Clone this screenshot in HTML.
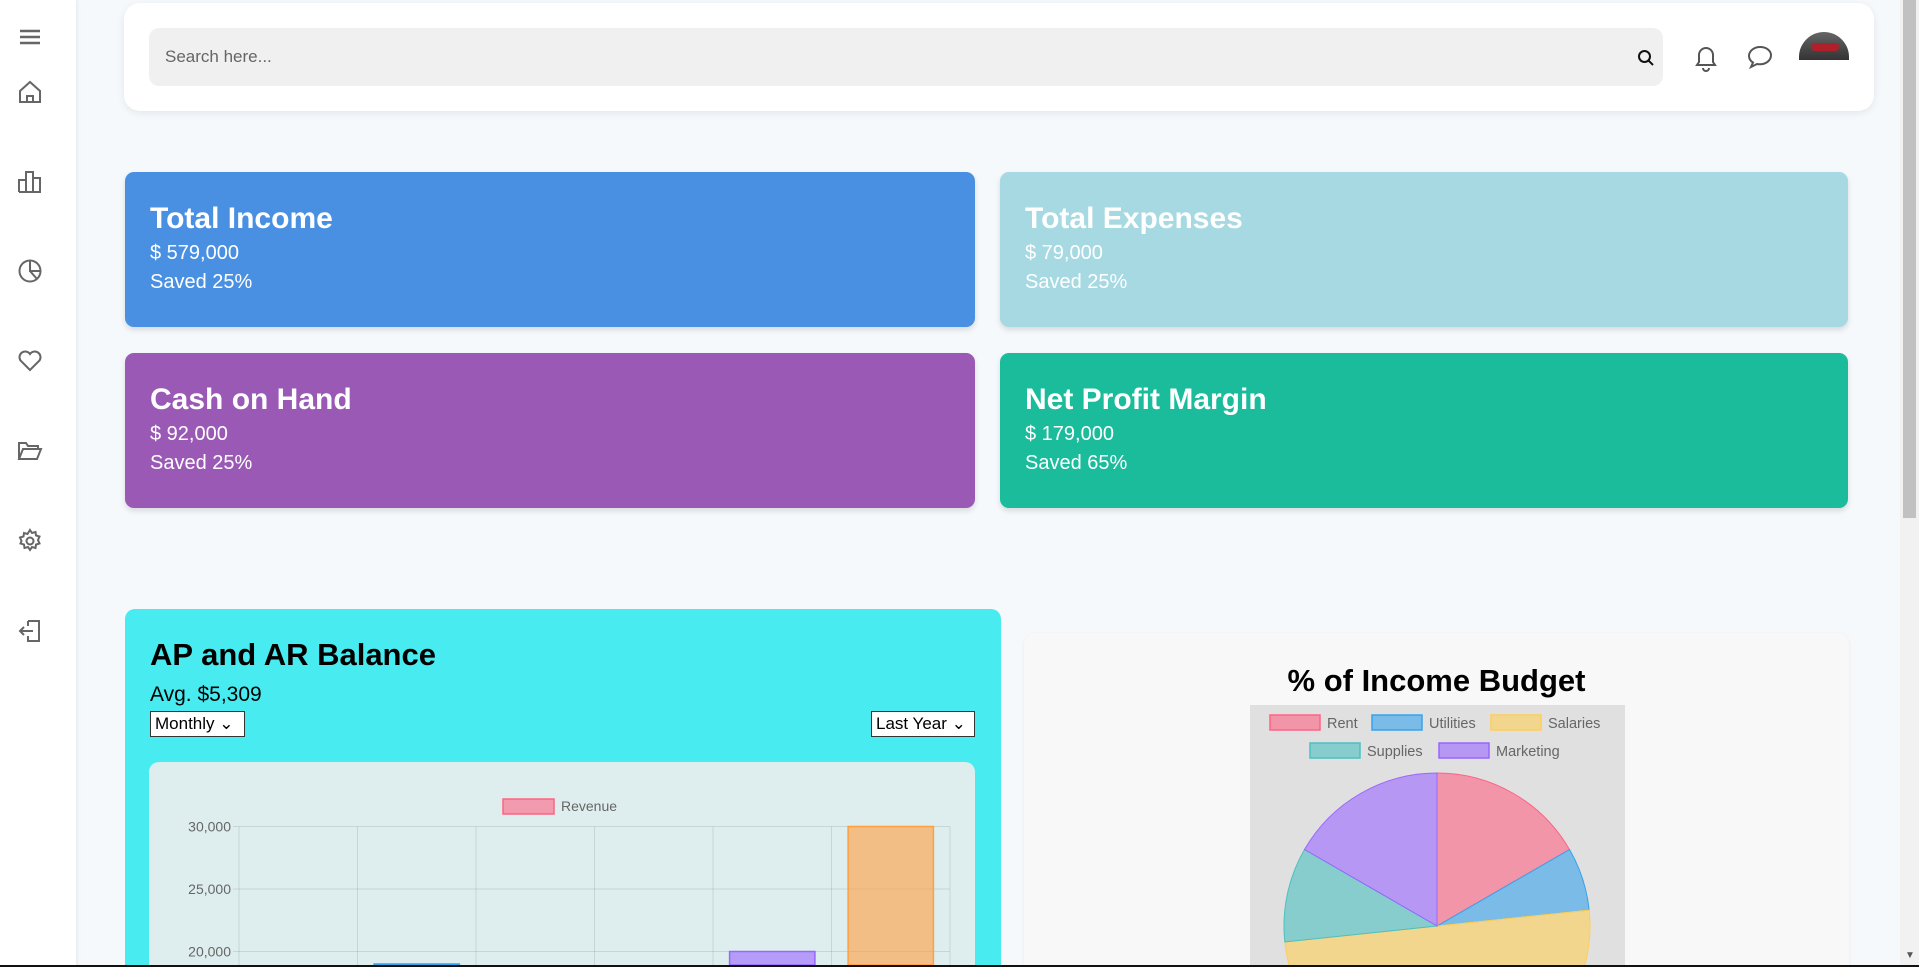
<!DOCTYPE html>
<html style="width:1919px;height:967px;overflow:hidden"><head><meta charset="utf-8">
<style>
*{box-sizing:border-box;margin:0;padding:0}
html,body{width:1919px;height:967px;overflow:hidden}
body{background:#f5f9fc;font-family:"Liberation Sans",sans-serif;position:relative}
.sidebar{position:absolute;left:0;top:0;width:76px;height:967px;background:#fff;box-shadow:1px 0 4px rgba(0,0,0,.08)}
.ic{position:absolute;left:17px;width:26px;height:26px}
.header{position:absolute;left:124px;top:3px;width:1750px;height:108px;background:#fff;border-radius:16px;box-shadow:0 2px 8px rgba(0,0,0,.08)}
.search{position:absolute;left:25px;top:25px;width:1514px;height:58px;background:#f0f0f0;border-radius:10px;font-size:17px;color:#666;padding:19px 0 0 16px}
.card{position:absolute;border-radius:9px;color:#fff;padding:0 25px;box-shadow:0 3px 6px rgba(0,0,0,.12)}
.card h2{font-size:30px;font-weight:bold;margin-top:30px}
.card p{font-size:20px;margin-top:6px}
.scroll{position:absolute;right:0;top:0;width:19px;height:967px;background:#f1f1f1}
</style></head><body>
<div class="sidebar">
<svg class="ic" style="top:24px" viewBox="0 0 26 26"><path d="M3 7h20M3 13h20M3 19h20" stroke="#666" stroke-width="2.4"/></svg>
<svg class="ic" style="top:79px" viewBox="0 0 26 26" fill="none" stroke="#666" stroke-width="2"><path d="M3 12L13 3l10 9v11H3z"/><path d="M10 23v-6h6v6"/></svg>
<svg class="ic" style="top:168px" viewBox="0 0 26 26" fill="none" stroke="#666" stroke-width="2"><path d="M2 24V12h7v12M9 24V4h7v20M16 24V10h7v14H2"/></svg>
<svg class="ic" style="top:258px" viewBox="0 0 26 26" fill="none" stroke="#666" stroke-width="2"><circle cx="13" cy="13" r="10.5"/><path d="M13 2.5V13h10.5M13 13l7 8"/></svg>
<svg class="ic" style="top:348px" viewBox="0 0 26 26" fill="none" stroke="#666" stroke-width="2"><path d="M13 22L3.5 12.5A5.5 5.5 0 0 1 13 6a5.5 5.5 0 0 1 9.5 6.5z"/></svg>
<svg class="ic" style="top:438px" viewBox="0 0 26 26" fill="none" stroke="#666" stroke-width="2"><path d="M2 21V5h7l2 3h10v3M2 21l4-10h18l-4 10z"/></svg>
<svg class="ic" style="top:528px" viewBox="0 0 26 26" fill="none" stroke="#666" stroke-width="2"><circle cx="13" cy="13" r="3.5"/><path d="M13 2l2 3 3.5-1 .5 3.5 3.5 1-1.5 3.5 1.5 3.5-3.5 1-.5 3.5-3.5-1-2 3-2-3-3.5 1-.5-3.5-3.5-1L4.5 13 3 9.5l3.5-1L7 5l3.5 1z"/></svg>
<svg class="ic" style="top:618px" viewBox="0 0 26 26" fill="none" stroke="#666" stroke-width="2"><path d="M11 3h11v20H11v-5M11 8V3M16 13H3m4-4l-4 4 4 4"/></svg>
</div>
<div class="header">
<div class="search">Search here...</div>
<svg style="position:absolute;left:1513px;top:46px" width="18" height="18" viewBox="0 0 18 18" fill="none" stroke="#111" stroke-width="2"><circle cx="7.5" cy="7.5" r="5.5"/><path d="M11.5 11.5l4.5 4.5"/></svg>
<svg style="position:absolute;left:1568px;top:40px" width="28" height="30" viewBox="0 0 28 30" fill="none" stroke="#555" stroke-width="2"><path d="M5 22h18l-2-3V12a7 7 0 0 0-14 0v7zM11 25a3 3 0 0 0 6 0"/></svg>
<svg style="position:absolute;left:1622px;top:40px" width="28" height="28" viewBox="0 0 28 28" fill="none" stroke="#555" stroke-width="2"><path d="M14 4C8 4 3 8 3 13c0 3 1.5 5 4 6.5L5 24l6-3c1 .2 2 .3 3 .3 6 0 11-4 11-9S20 4 14 4z"/></svg>
<div style="position:absolute;left:1675px;top:29px;width:50px;height:28px;border-radius:25px 25px 0 0;background:linear-gradient(#666,#333);overflow:hidden"><div style="position:absolute;left:12px;top:11px;width:28px;height:8px;background:#b0202a;border-radius:6px"></div></div>
</div>
<div class="card" style="left:125px;top:172px;width:850px;height:155px;background:#4a90e2"><h2>Total Income</h2><p>$ 579,000</p><p>Saved 25%</p></div>
<div class="card" style="left:1000px;top:172px;width:848px;height:155px;background:#a6d9e2"><h2>Total Expenses</h2><p>$ 79,000</p><p>Saved 25%</p></div>
<div class="card" style="left:125px;top:353px;width:850px;height:155px;background:#9b59b6"><h2>Cash on Hand</h2><p>$ 92,000</p><p>Saved 25%</p></div>
<div class="card" style="left:1000px;top:353px;width:848px;height:155px;background:#1abc9c"><h2>Net Profit Margin</h2><p>$ 179,000</p><p>Saved 65%</p></div>

<div style="position:absolute;left:125px;top:609px;width:876px;height:356px;background:#48ecf0;border-radius:10px 10px 0 0;overflow:hidden">
<div style="position:absolute;left:25px;top:28px;font-size:31px;font-weight:bold;color:#000">AP and AR Balance</div>
<div style="position:absolute;left:25px;top:74px;font-size:21px;color:#000">Avg. $5,309</div>
<div style="position:absolute;left:25px;top:102px;width:95px;height:26px;border:1px solid #333;background:#fff;font-size:17px;padding:2px 4px">Monthly ⌄</div>
<div style="position:absolute;left:746px;top:102px;width:104px;height:26px;border:1px solid #333;background:#fff;font-size:17px;padding:2px 4px">Last Year ⌄</div>
<div style="position:absolute;left:24px;top:153px;width:826px;height:203px;background:#deeeee;border-radius:10px 10px 0 0"></div>
</div>
<svg id="bar" style="position:absolute;left:0;top:0" width="1919" height="965"></svg>

<div style="position:absolute;left:1024px;top:633px;width:825px;height:332px;background:#f8f8f8;border-radius:12px 12px 0 0;box-shadow:0 1px 4px rgba(0,0,0,.06);overflow:hidden">
<div style="position:absolute;left:0;width:825px;text-align:center;top:30px;font-size:31px;font-weight:bold">% of Income Budget</div>
<div style="position:absolute;left:226px;top:72px;width:375px;height:260px;background:#e0e0e0"></div>
</div>
<svg id="pie" style="position:absolute;left:0;top:0" width="1919" height="965"></svg>

<div class="scroll"><div style="position:absolute;left:3px;top:0;width:13px;height:518px;background:#c1c1c1"></div><div style="position:absolute;left:5px;bottom:6px;font-size:10px;color:#555">▼</div></div>
<div style="position:absolute;left:0;top:965px;width:1919px;height:2px;background:#111"></div>

<script>
const barCategories=["Jan","Feb","Mar","Apr","May","Jun"];
const barValues=[15000,19000,12000,10000,20000,30000];
const barFills=["rgba(255,99,132,0.6)","rgba(54,162,235,0.6)","rgba(255,206,86,0.6)","rgba(75,192,192,0.6)","rgba(153,102,255,0.6)","rgba(255,159,64,0.6)"];
const barStrokes=["#ff6384","#36a2eb","#ffce56","#4bc0c0","#9966ff","#ff9f40"];
const yTicks=[30000,25000,20000,15000,10000];
const pieLabels=["Rent","Utilities","Salaries","Supplies","Marketing"];
const pieValues=[10,4,30,6,10];

const NS="http://www.w3.org/2000/svg";
function mk(svg,t,a){const e=document.createElementNS(NS,t);for(const k in a)e.setAttribute(k,a[k]);svg.appendChild(e);return e;}
const bar=document.getElementById('bar');
const x0=239,x1=950,yTop=826.5,yBottom=965;
const y=v=>yTop+(30000-v)*62.5/5000;
const cw=(x1-x0)/barCategories.length;
let g=mk(bar,'g',{});


yTicks.forEach(t=>{
 if(y(t)>yBottom) return;
 const l=mk(g,'line',{x1:x0-6,x2:x1,y1:y(t),y2:y(t),stroke:'rgba(0,0,0,0.1)'});
 
 
 const tx=mk(g,'text',{x:x0-8,y:y(t)+5,'text-anchor':'end','font-size':14,fill:'#666','font-family':'Liberation Sans'});
 tx.textContent=t.toLocaleString('en-US');
 
 
});
for(let i=0;i<=barCategories.length;i++){
 const l=mk(g,'line',{x1:x0+i*cw,x2:x0+i*cw,y1:yTop,y2:yBottom,stroke:'rgba(0,0,0,0.1)'});
 
 
}
barValues.forEach((v,i)=>{
 const w=cw*0.72,bx=x0+i*cw+(cw-w)/2;
 const r=mk(bar,'rect',{x:bx,y:Math.min(y(v),yBottom),width:w,height:Math.max(0,yBottom-y(v)),fill:barFills[i],stroke:barStrokes[i],'stroke-width':1.5});
 
 
});
const lg=mk(bar,'rect',{x:503,y:799,width:51,height:15,fill:'rgba(255,99,132,0.6)',stroke:'#ff6384','stroke-width':1.5});


const lt=mk(bar,'text',{x:561,y:811,'font-size':14,fill:'#666','font-family':'Liberation Sans'});lt.textContent='Revenue';



const pie=document.getElementById('pie');
const cx=1437,cy=926,R=153;
const tot=pieValues.reduce((a,b)=>a+b,0);
let ang=0;
pieValues.forEach((v,i)=>{
 const a0=ang,a1=ang+v/tot*2*Math.PI;ang=a1;
 const p=(a)=>[cx+R*Math.sin(a),cy-R*Math.cos(a)];
 const [sx,sy]=p(a0),[ex,ey]=p(a1);
 const s=mk(pie,'path',{d:`M${cx},${cy}L${sx},${sy}A${R},${R} 0 ${a1-a0>Math.PI?1:0} 1 ${ex},${ey}Z`,fill:barFills[i],stroke:barStrokes[i],'stroke-width':1});
 
 
});
const legPos=[[1270,723],[1372,723],[1491,723],[1310,751],[1439,751]];
pieLabels.forEach((lab,i)=>{
 const [lx,ly]=legPos[i];
 const r=mk(pie,'rect',{x:lx,y:ly-8,width:50,height:15,fill:barFills[i],stroke:barStrokes[i],'stroke-width':1.5});
 
 
 const t=mk(pie,'text',{x:lx+57,y:ly+5,'font-size':14.5,fill:'#666','font-family':'Liberation Sans'});t.textContent=lab;
 
 
});
</script>
</body></html>
